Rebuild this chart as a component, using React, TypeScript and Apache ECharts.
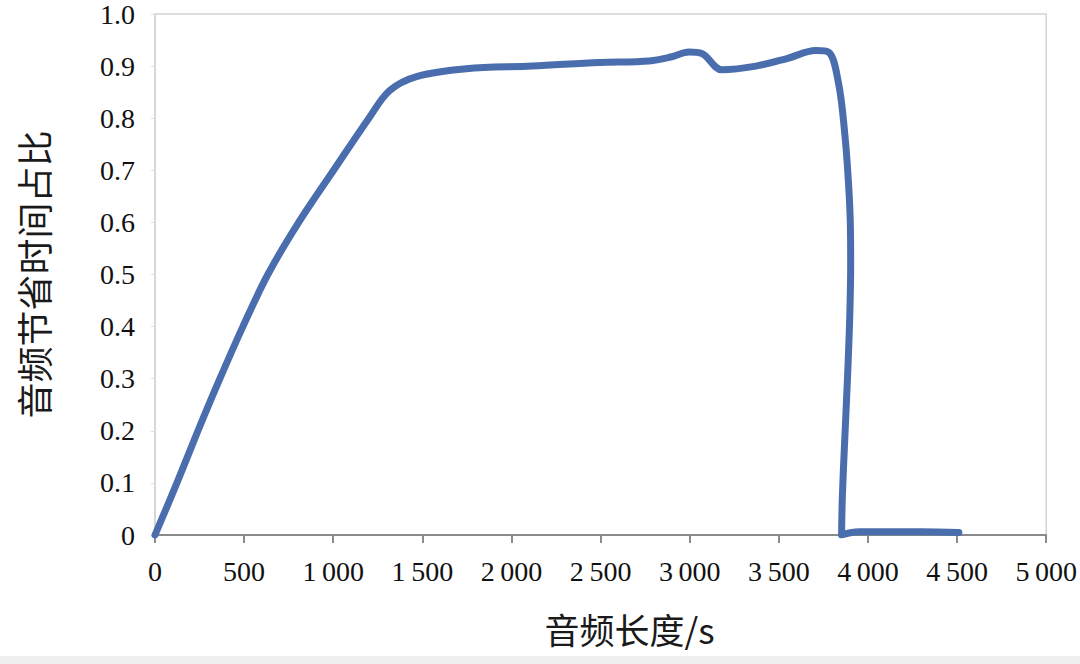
import React, { useEffect, useRef } from "react";
import * as echarts from "echarts";

const xValues = [0, 123, 241, 364, 493, 633, 806, 1002, 1200, 1316, 1467, 1747, 2117, 2492, 2772, 2900, 2996, 3068, 3180, 3371, 3550, 3707, 3779, 3835, 3870, 3890, 3901, 3903, 3898, 3885, 3868, 3856, 3852, 3950, 4300, 4510];
const yValues = [0, 0.1, 0.2, 0.3, 0.4, 0.5, 0.6, 0.7, 0.8, 0.853, 0.88, 0.895, 0.9, 0.907, 0.91, 0.918, 0.927, 0.924, 0.893, 0.9, 0.915, 0.93, 0.927, 0.867, 0.77, 0.68, 0.6, 0.52, 0.42, 0.3, 0.17, 0.07, 0, 0.006, 0.006, 0.005];

const xTitle = "音频长度/s";
const yTitle = "音频节省时间占比";

const serif = "Liberation Serif";
const cjk = "Noto Sans CJK SC";

export default function App() {
  const ref = useRef<HTMLDivElement>(null);
  useEffect(() => {
    if (!ref.current) return;
    const chart = echarts.init(ref.current, null, { renderer: "svg" });
    const data = xValues.map((x, i) => [x, yValues[i]]);
    chart.setOption({
      animation: false,
      backgroundColor: "#ffffff",
      textStyle: { fontFamily: serif },
      grid: {
        left: 155,
        right: 31,
        top: 13,
        bottom: 129,
        show: true,
        borderColor: "#d4d4d4",
        borderWidth: 1.5,
      },
      xAxis: {
        type: "value",
        min: 0,
        max: 5000,
        interval: 500,
        name: xTitle,
        nameLocation: "middle",
        nameGap: 76,
        nameTextStyle: { fontFamily: cjk, fontSize: 35, color: "#1a1a1a", padding: [0, 0, 0, 58] },
        axisLine: { show: true, lineStyle: { color: "#8a8a8a", width: 2 } },
        axisTick: { show: true, length: 8, lineStyle: { color: "#8a8a8a", width: 2 } },
        axisLabel: {
          margin: 22,
          fontFamily: serif,
          fontSize: 28,
          color: "#111",
          formatter: (v: number) =>
            v >= 1000 ? String(v).replace(/(\d)(\d{3})$/, "$1\u2009$2") : String(v),
        },
        splitLine: { show: false },
      },
      yAxis: {
        type: "value",
        min: 0,
        max: 1,
        interval: 0.1,
        name: yTitle,
        nameLocation: "middle",
        nameRotate: 90,
        nameGap: 104,
        nameTextStyle: { fontFamily: cjk, fontSize: 36, color: "#1a1a1a" },
        axisLine: { show: true, lineStyle: { color: "#d4d4d4", width: 1.5 } },
        axisTick: { show: true, length: 4, lineStyle: { color: "#e0e0e0" } },
        axisLabel: {
          margin: 20,
          fontFamily: serif,
          fontSize: 28,
          color: "#111",
          formatter: (v: number) => (v === 0 ? "0" : v.toFixed(1)),
        },
        splitLine: { show: false },
      },
      graphic: [
        {
          type: "rect",
          left: 0,
          top: 656,
          shape: { width: 1080, height: 8 },
          style: { fill: "#efefef" },
          silent: true,
        },
      ],
      series: [
        {
          type: "line",
          data,
          smooth: 0.35,
          showSymbol: false,
          symbol: "none",
          lineStyle: { color: "#4a6ead", width: 7, cap: "round", join: "round" },
        },
      ],
    });
    return () => chart.dispose();
  }, []);
  return (
    <div
      ref={ref}
      style={{ position: "fixed", left: 0, top: 0, width: 1080, height: 664 }}
    />
  );
}
